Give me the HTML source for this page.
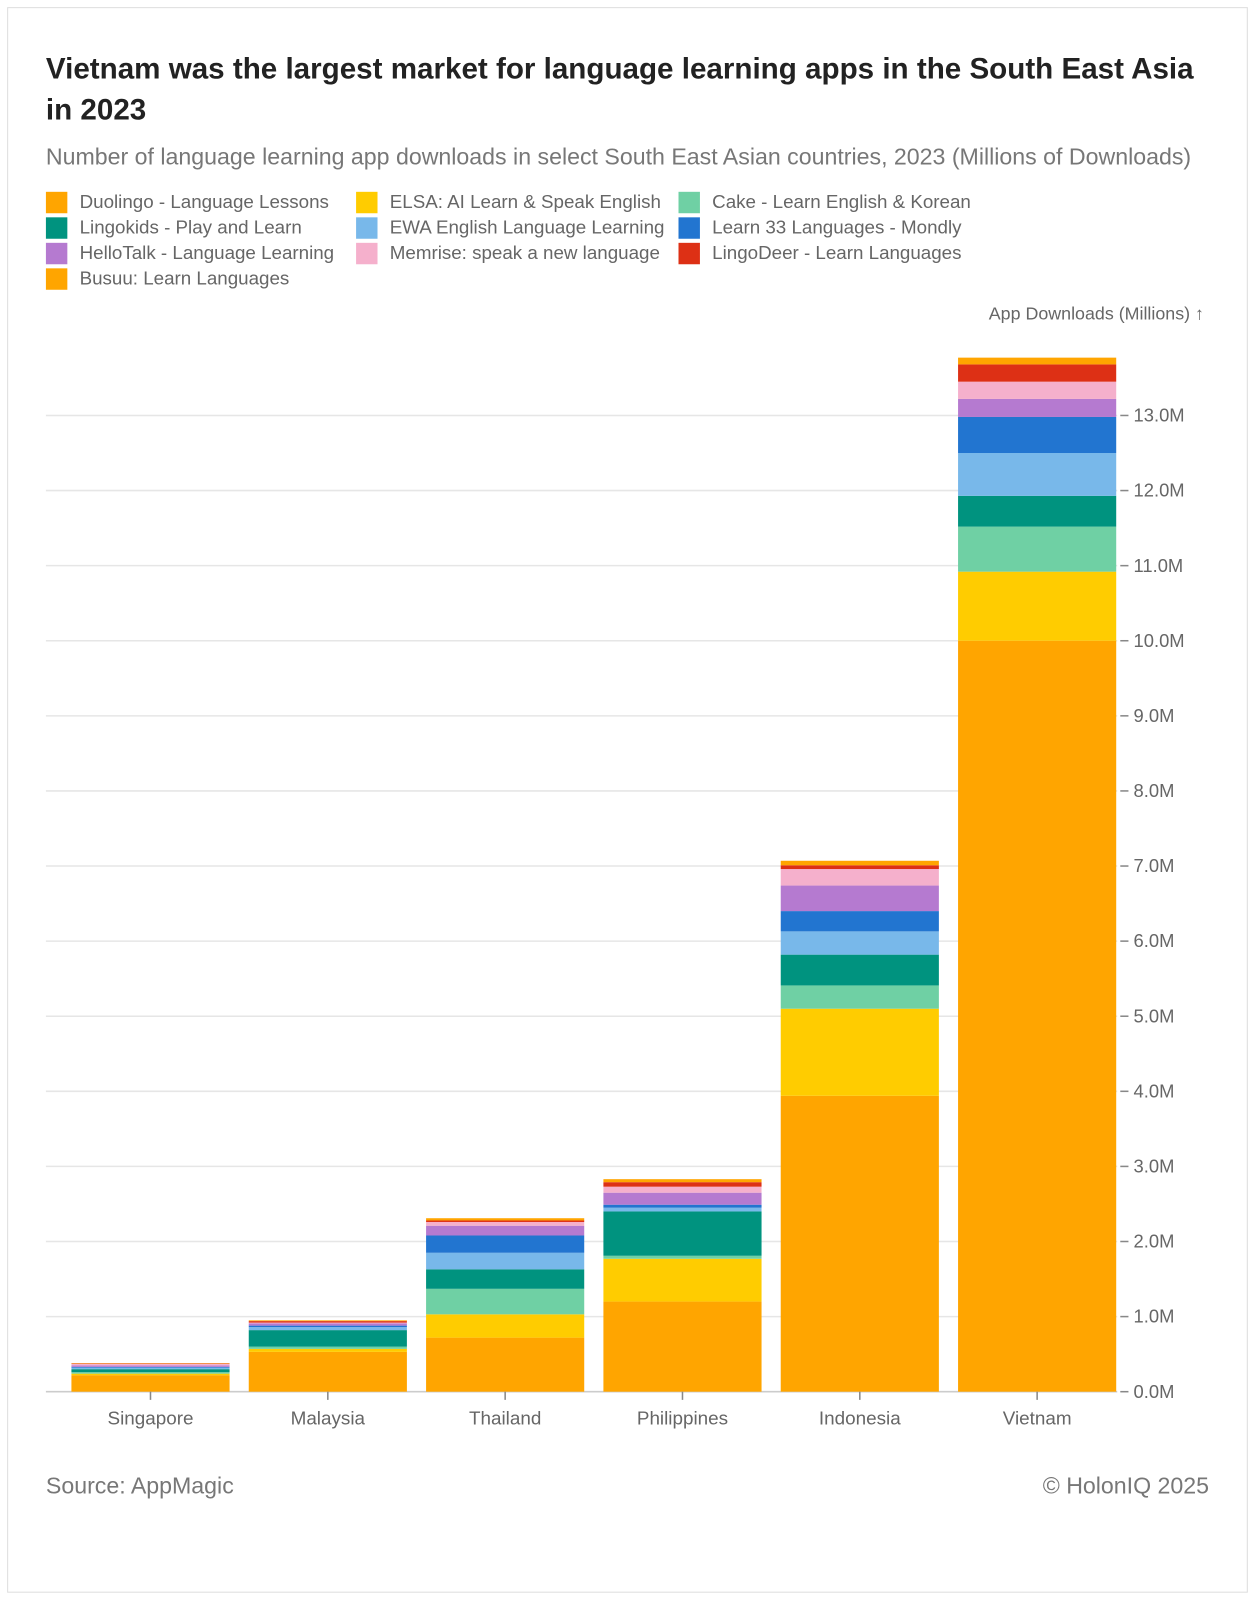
<!DOCTYPE html>
<html><head><meta charset="utf-8"><style>
html,body{margin:0;padding:0;background:#fff;width:1255px;height:1600px;overflow:hidden}
#wrap{position:absolute;left:0;top:0;width:1230px;height:1568px;transform:scale(1.0203);transform-origin:0 0;font-family:"Liberation Sans",sans-serif}
.frame{position:absolute;left:7px;top:7px;width:1214px;height:1552px;border:1px solid #ddd}
.title{position:absolute;left:45px;top:48px;width:1180px;font-size:29px;font-weight:bold;color:#222;line-height:40px;white-space:nowrap}
.sub{position:absolute;left:45px;top:140px;font-size:22.7px;color:#777;white-space:nowrap}
.leg{position:absolute;font-size:18.4px;color:#666;display:flex;align-items:center;white-space:nowrap}
.leg i{display:inline-block;width:21px;height:21px;margin-right:12px}
.foot{position:absolute;top:1443px;font-size:22.7px;color:#777}
</style></head><body>
<div id="wrap">
<div class="frame"></div>
<div class="title">Vietnam was the largest market for language learning apps in the South East Asia<br>in 2023</div>
<div class="sub">Number of language learning app downloads in select South East Asian countries, 2023 (Millions of Downloads)</div>
<div id="legend"></div>
<svg id="chart" width="1230" height="1420" style="position:absolute;left:0;top:0"></svg>
<div class="foot" style="left:45px">Source: AppMagic</div>
<div class="foot" style="right:45px">© HolonIQ 2025</div>
</div>
<script>
const categories=["Singapore","Malaysia","Thailand","Philippines","Indonesia","Vietnam"];
const seriesNames=["Duolingo - Language Lessons","ELSA: AI Learn & Speak English","Cake - Learn English & Korean","Lingokids - Play and Learn","EWA English Language Learning","Learn 33 Languages - Mondly","HelloTalk - Language Learning","Memrise: speak a new language","LingoDeer - Learn Languages","Busuu: Learn Languages"];
const colors=["#ffa500","#ffcc00","#6fd0a4","#00937f","#78b8ea","#2275d0","#b57ad0","#f5b0cc","#dd3015","#ffa500"];
const duolingo=[0.22,0.53,0.72,1.20,3.94,10.0];
const elsa=[0.02,0.04,0.31,0.57,1.16,0.92];
const cake=[0.02,0.03,0.34,0.04,0.31,0.60];
const lingokids=[0.04,0.22,0.26,0.59,0.41,0.41];
const ewa=[0.02,0.04,0.22,0.05,0.31,0.57];
const mondly=[0.01,0.02,0.23,0.04,0.27,0.48];
const hellotalk=[0.02,0.03,0.13,0.16,0.34,0.24];
const memrise=[0.02,0.01,0.05,0.08,0.22,0.23];
const lingodeer=[0.005,0.02,0.02,0.06,0.05,0.23];
const busuu=[0.005,0.01,0.03,0.04,0.06,0.09];
const yTicks=[0,1,2,3,4,5,6,7,8,9,10,11,12,13];
const series=[duolingo,elsa,cake,lingokids,ewa,mondly,hellotalk,memrise,lingodeer,busuu];

const NS="http://www.w3.org/2000/svg";
const svg=document.getElementById('chart');
const y0=1364,ppm=73.6,plotL=45,plotR=1095,step=173.8,bw=155,bx0=70;
const yScale=v=>y0-v*ppm;
const xScale=i=>bx0+i*step;
function mk(t,a){const e=document.createElementNS(NS,t);for(const k in a)e.setAttribute(k,a[k]);svg.appendChild(e);return e;}
yTicks.forEach(v=>{
  const y=yScale(v);
  const g=mk('line',{x1:plotL,x2:plotR,y1:y,y2:y,stroke:v===0?'#ccc':'#e6e6e6','stroke-width':1.5});
  
  
  const tk=mk('line',{x1:1098,x2:1106,y1:y,y2:y,stroke:'#888','stroke-width':1.5});
  
  
  const t=mk('text',{x:1111,y:y+6,'font-size':18,fill:'#666'});
  t.textContent=v.toFixed(1)+'M';
  
  
});
const at=mk('text',{x:1180,y:313,'font-size':17.5,fill:'#666','text-anchor':'end'});
at.textContent='App Downloads (Millions) ↑';


categories.forEach((c,i)=>{
  let cum=0;
  series.forEach((s,j)=>{
    const v=s[i];
    const r=mk('rect',{x:xScale(i),y:yScale(cum+v),width:bw,height:v*ppm,fill:colors[j]});
    
    
    cum+=v;
  });
  const cx=xScale(i)+bw/2;
  const tk=mk('line',{x1:cx,x2:cx,y1:y0,y2:y0+8,stroke:'#888','stroke-width':1.5});
  
  
  const t=mk('text',{x:cx,y:1396,'font-size':18.5,fill:'#666','text-anchor':'middle'});
  t.textContent=c;
  
  
});
const lx=[45,349,665],ly=[187,212,237,262];
const leg=document.getElementById('legend');
seriesNames.forEach((n,k)=>{
  const d=document.createElement('div');
  d.className='leg';
  d.style.left=lx[k%3]+'px';d.style.top=ly[Math.floor(k/3)]+'px';
  d.innerHTML='<i style="background:'+colors[k]+'"></i>';
  d.appendChild(document.createTextNode(n));
  
  
  leg.appendChild(d);
});
</script>
</body></html>
